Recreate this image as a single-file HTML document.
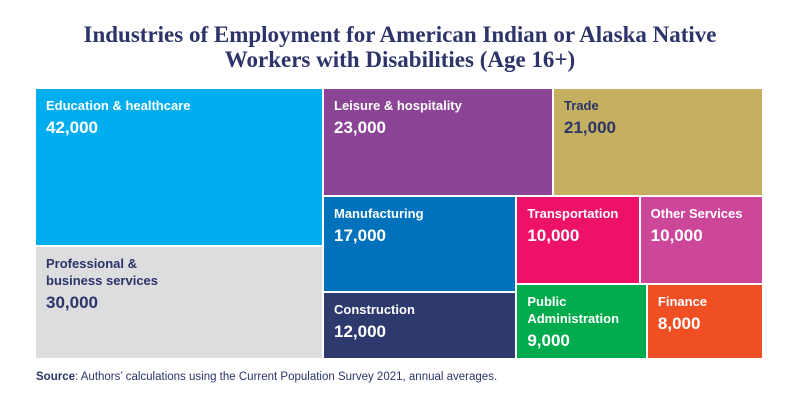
<!DOCTYPE html>
<html><head><meta charset="utf-8"><style>
body{margin:0;background:#fff;width:800px;height:400px;overflow:hidden;position:relative;font-family:"Liberation Sans",sans-serif}
#title{position:absolute;top:22px;left:0;width:800px;text-align:center;font-family:"Liberation Serif",serif;font-weight:bold;font-size:23px;line-height:25px;color:#2c3469}
#chart{position:absolute;left:0;top:0}
.cell{position:absolute;box-sizing:border-box;padding:8px 10px;font-weight:bold;color:#fff}
.lab{font-size:13px;line-height:17px}
.val{font-size:17px;line-height:20px;margin-top:4px}
#source{position:absolute;left:36px;top:371px;font-size:11.5px;color:#2c3469}
</style></head><body>
<div id="title">Industries of Employment for American Indian or Alaska Native<br>Workers with Disabilities (Age 16+)</div>
<div id="chart"></div>
<div id="source"><b>Source</b>: Authors’ calculations using the Current Population Survey 2021, annual averages.</div>
<script>
const categories=["Education & healthcare","Professional &<br>business services","Leisure & hospitality","Trade","Manufacturing","Construction","Transportation","Other Services","Public<br>Administration","Finance"];
const values=[42000,30000,23000,21000,17000,12000,10000,10000,9000,8000];
const valueLabels=["42,000","30,000","23,000","21,000","17,000","12,000","10,000","10,000","9,000","8,000"];
const colors=["#00aeef","#dcdddf","#8b4496","#c4b060","#0072bc","#2e3a6e","#ed1168","#cc4699","#00ab4e","#f04e23"];
const textColors=["#fff","#2c3469","#fff","#2c3469","#fff","#fff","#fff","#fff","#fff","#fff"];
const area={x:36,y:89,w:728,h:271};
const gap=2;
const chart=document.getElementById('chart');
let rect={...area};
let vertical=true;
for(let i=0;i<values.length;i+=2){
  if(i+2>=values.length) vertical=false;
  const rest=values.slice(i).reduce((a,b)=>a+b,0);
  const pair=values.slice(i,i+2);
  const ps=pair.reduce((a,b)=>a+b,0);
  let slab;
  if(vertical){const w=rect.w*ps/rest;slab={x:rect.x,y:rect.y,w:w,h:rect.h};rect={x:rect.x+w,y:rect.y,w:rect.w-w,h:rect.h};}
  else{const h=rect.h*ps/rest;slab={x:rect.x,y:rect.y,w:rect.w,h:h};rect={x:rect.x,y:rect.y+h,w:rect.w,h:rect.h-h};}
  let off=0;
  pair.forEach((v,j)=>{
    const k=i+j;let r;
    if(vertical){const h=slab.h*v/ps;r={x:slab.x,y:slab.y+off,w:slab.w,h:h};off+=h;}
    else{const w=slab.w*v/ps;r={x:slab.x+off,y:slab.y,w:w,h:slab.h};off+=w;}
    const d=document.createElement('div');
    d.className='cell';
    
    
    d.style.left=r.x+'px';d.style.top=r.y+'px';
    d.style.width=(r.w-gap)+'px';d.style.height=(r.h-gap)+'px';
    d.style.background=colors[k];d.style.color=textColors[k];
    d.innerHTML='<div class="lab">'+categories[k]+'</div><div class="val">'+valueLabels[k]+'</div>';
    chart.appendChild(d);
  });
  vertical=!vertical;
}
</script>
</body></html>
